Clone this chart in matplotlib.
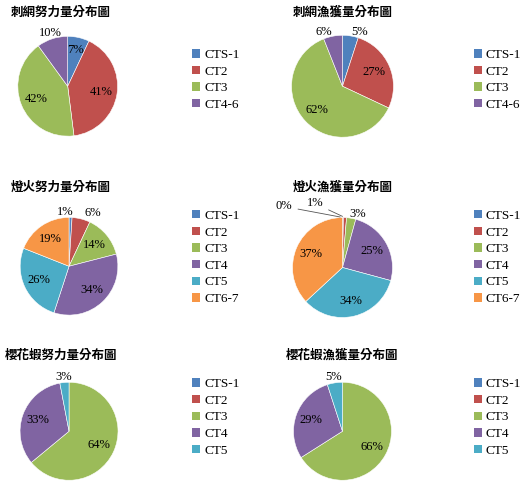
import matplotlib.pyplot as plt
import numpy as np
from matplotlib.patches import Patch

plt.rcParams['font.family'] = ['Liberation Serif', 'Noto Sans CJK TC']

c_blue, c_red, c_green, c_purple, c_cyan, c_orange = '#4F81BD', '#C0504D', '#9BBB59', '#8064A2', '#4BACC6', '#F79646'

titles = ['刺網努力量分布圖', '刺網漁獲量分布圖', '燈火努力量分布圖', '燈火漁獲量分布圖', '櫻花蝦努力量分布圖', '櫻花蝦漁獲量分布圖']
cats_a = ['CTS-1', 'CT2', 'CT3', 'CT4-6']
cats_b = ['CTS-1', 'CT2', 'CT3', 'CT4', 'CT5', 'CT6-7']
cats_c = ['CTS-1', 'CT2', 'CT3', 'CT4', 'CT5']
gill_effort = [7, 41, 42, 10]
gill_catch = [5, 27, 62, 6]
light_effort = [1, 6, 14, 34, 26, 19]
light_catch = [0.3, 1, 3, 25, 34, 37]
light_catch_lbl = [0, 1, 3, 25, 34, 37]
shrimp_effort = [0, 0, 64, 33, 3]
shrimp_catch = [0, 0, 66, 29, 5]

colors = [c_blue, c_red, c_green, c_purple, c_cyan, c_orange]

# (values, labels, cats, pie-axes rect, legend anchor, label position overrides (radius, angle shift))
panels = [
    (gill_effort, gill_effort, cats_a, [0.01, 0.70, 0.235, 0.255], (0.34, 0.84), {0: (0.75, 0), 3: (1.12, 0)}),
    (gill_catch, gill_catch, cats_a, [0.525, 0.70, 0.24, 0.255], (0.87, 0.84), {0: (1.12, -8), 3: (1.12, 8)}),
    (light_effort, light_effort, cats_b, [0.015, 0.345, 0.23, 0.245], (0.34, 0.485), {0: (1.12, 6), 1: (1.2, -10)}),
    (light_catch, light_catch_lbl, cats_b, [0.525, 0.34, 0.24, 0.25], (0.87, 0.485), {2: (1.12, -6)}),
    (shrimp_effort, shrimp_effort, cats_c, [0.01, 0.015, 0.24, 0.245], (0.34, 0.165), {4: (1.12, 0)}),
    (shrimp_catch, shrimp_catch, cats_c, [0.525, 0.015, 0.24, 0.245], (0.87, 0.165), {4: (1.12, 0)}),
]
title_y = [0.975, 0.975, 0.625, 0.625, 0.29, 0.29]
title_x = [0.115, 0.645, 0.115, 0.645, 0.115, 0.645]

fig = plt.figure(figsize=(5.31, 5.0), dpi=100)
for i, (vals, lbls, cats, rect, leg, rads) in enumerate(panels):
    ax = fig.add_axes(rect)
    wedges, _ = ax.pie(vals, colors=colors[:len(vals)], startangle=90, counterclock=False,
                       wedgeprops=dict(linewidth=0.4, edgecolor='white'))
    ax.set_aspect('equal')
    for j, w in enumerate(wedges):
        if vals[j] == 0:
            continue
        if i == 3 and j < 2:
            continue
        r, shift = rads.get(j, (0.68, 0))
        ang = np.radians((w.theta1 + w.theta2) / 2 + shift)
        ax.text(r * np.cos(ang), r * np.sin(ang), f'{lbls[j]}%', ha='center', va='center', fontsize=9)
    if i == 3:
        # leader-line labels for tiny slices
        for j, (tx, ty) in zip([0, 1], [(-1.0, 1.22), (-0.55, 1.28)]):
            w = wedges[j]
            ang = np.radians((w.theta1 + w.theta2) / 2)
            ax.annotate(f'{lbls[j]}%', xy=(np.cos(ang), np.sin(ang)), xytext=(tx, ty),
                        fontsize=9, ha='right' if j == 0 else 'center', va='center',
                        arrowprops=dict(arrowstyle='-', color='#555555', lw=0.6))
    fig.text(title_x[i], title_y[i], titles[i], ha='center', va='center', fontsize=9,
             fontweight='bold', family=['Noto Sans CJK TC'])
    handles = [Patch(facecolor=colors[k]) for k in range(len(cats))]
    fig.legend(handles, cats, loc='center left', bbox_to_anchor=leg, frameon=False,
               fontsize=9.5, handlelength=0.6, handleheight=0.6, handletextpad=0.3,
               labelspacing=0.35)

fig.savefig('out.png', dpi=100)
